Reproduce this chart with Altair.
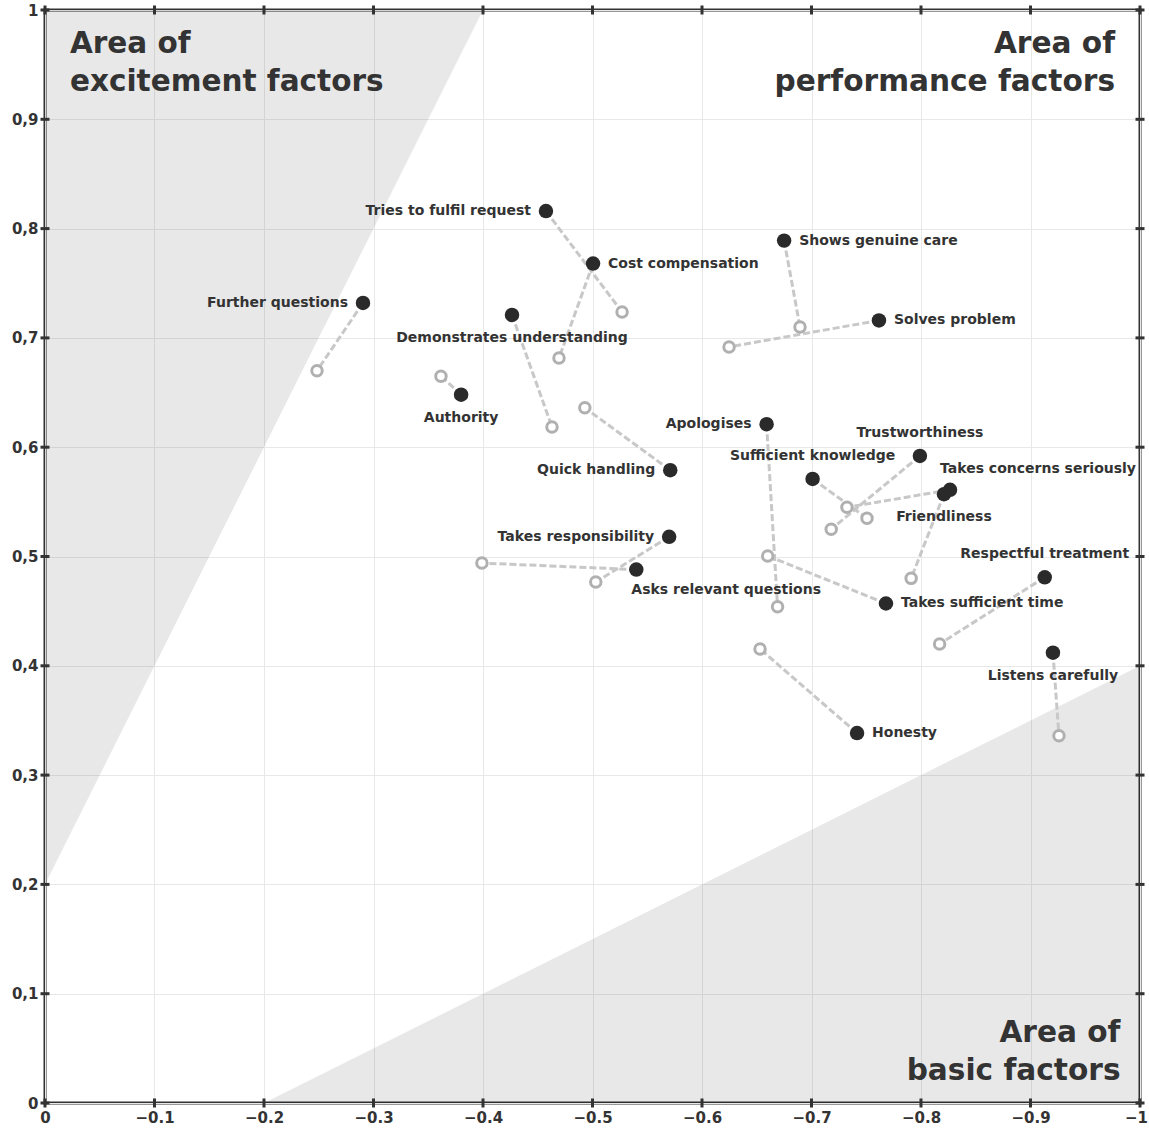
import altair as alt
import pandas as pd

factors = [
    "Tries to fulfil request", "Cost compensation", "Shows genuine care", "Solves problem",
    "Further questions", "Demonstrates understanding", "Authority", "Apologises",
    "Quick handling", "Sufficient knowledge", "Trustworthiness", "Takes concerns seriously",
    "Friendliness", "Takes responsibility", "Asks relevant questions", "Takes sufficient time",
    "Respectful treatment", "Listens carefully", "Honesty",
]
x_filled = [-0.4575, -0.5005, -0.675, -0.7616, -0.2904, -0.4265, -0.380, -0.659,
            -0.571, -0.701, -0.799, -0.8265, -0.821, -0.570, -0.540, -0.768,
            -0.913, -0.9205, -0.7416]
y_filled = [0.816, 0.768, 0.789, 0.716, 0.732, 0.721, 0.648, 0.621,
            0.579, 0.571, 0.592, 0.561, 0.557, 0.518, 0.488, 0.457,
            0.481, 0.412, 0.3385]
x_open = [-0.527, -0.4694, -0.6895, -0.6247, -0.2484, -0.463, -0.3616, -0.669,
          -0.493, -0.7507, -0.718, -0.7324, -0.791, -0.503, -0.399, -0.660,
          -0.817, -0.926, -0.653]
y_open = [0.7237, 0.6816, 0.710, 0.6917, 0.670, 0.6185, 0.665, 0.454,
          0.636, 0.535, 0.525, 0.545, 0.480, 0.4767, 0.494, 0.5005,
          0.420, 0.336, 0.4154]

labels_right = ["Cost compensation", "Shows genuine care", "Solves problem", "Takes sufficient time", "Honesty"]
labels_left = ["Tries to fulfil request", "Further questions", "Apologises", "Quick handling", "Takes responsibility"]
labels_above = ["Sufficient knowledge", "Trustworthiness", "Respectful treatment"]
labels_below = ["Demonstrates understanding", "Authority", "Friendliness", "Listens carefully"]
labels_above_right = ["Takes concerns seriously"]
labels_below_right = ["Asks relevant questions"]

x_ticks = [0, -0.1, -0.2, -0.3, -0.4, -0.5, -0.6, -0.7, -0.8, -0.9, -1.0]
y_ticks = [0, 0.1, 0.2, 0.3, 0.4, 0.5, 0.6, 0.7, 0.8, 0.9, 1.0]

excite_x = [0.0, -0.4]
excite_lo = [0.2, 1.0]
excite_hi = [1.0, 1.0]
basic_x = [-0.2, -1.0]
basic_lo = [0.0, 0.0]
basic_hi = [0.0, 0.4]

title_left = ["Area of\nexcitement factors"]
title_left_x = [-0.0228]
title_left_y = [0.9607]
title_right = ["Area of\nperformance factors", "Area of\nbasic factors"]
title_right_x = [-0.9772, -0.9822]
title_right_y = [0.9607, 0.0558]

TXT = "#333333"
FONT = "DejaVu Sans"

xs = alt.Scale(domain=[-1, 0], reverse=True, nice=False, zero=False)
ys = alt.Scale(domain=[0, 1], nice=False, zero=False)

df = pd.DataFrame({"factor": factors, "x": x_filled, "y": y_filled,
                   "x2": x_open, "y2": y_open})

ex_df = pd.DataFrame({"x": excite_x, "lo": excite_lo, "hi": excite_hi})
ba_df = pd.DataFrame({"x": basic_x, "lo": basic_lo, "hi": basic_hi})

X = lambda f="x": alt.X(f"{f}:Q", scale=xs, title=None,
                        axis=alt.Axis(values=x_ticks, labelExpr="format(datum.value, '~g')",
                                      grid=True, labelPadding=7,
                                      labelOffset={"condition": {"test": "datum.value == -1", "value": -4},
                                                   "value": 0}))
Y = lambda f="y": alt.Y(f"{f}:Q", scale=ys, title=None,
                        axis=alt.Axis(values=y_ticks,
                                      labelExpr="replace(format(datum.value, '~g'), '.', ',')",
                                      grid=True, labelPadding=7))

shade_ex = alt.Chart(ex_df).mark_area(color="#000000", opacity=0.09).encode(
    x=X(), y=Y("lo"), y2="hi:Q")
shade_ba = alt.Chart(ba_df).mark_area(color="#000000", opacity=0.09).encode(
    x=X(), y=Y("lo"), y2="hi:Q")

links = alt.Chart(df).mark_rule(color="#c8c8c8", strokeWidth=3, strokeDash=[7, 3]).encode(
    x=X(), y=Y(), x2="x2:Q", y2="y2:Q")

open_pts = alt.Chart(df).mark_point(shape="circle", filled=False, size=110, strokeWidth=3,
                                    color="#b0b0b0", fill="#ffffff", fillOpacity=1, opacity=1).encode(
    x=X("x2"), y=Y("y2"))

filled_pts = alt.Chart(df).mark_point(shape="circle", filled=True, size=210,
                                      color="#2a2a2a", opacity=1).encode(
    x=X(), y=Y())


def lab(names, **kw):
    sub = df[df["factor"].isin(names)]
    return alt.Chart(sub).mark_text(font=FONT, fontWeight="bold", fontSize=14, color=TXT, **kw).encode(
        x=X(), y=Y(), text="factor:N")


lab_layers = [
    lab(labels_right, align="left", baseline="middle", dx=15),
    lab(labels_left, align="right", baseline="middle", dx=-15),
    lab(labels_above, align="center", baseline="middle", dy=-23),
    lab(labels_below, align="center", baseline="middle", dy=23),
    lab(labels_above_right, align="left", baseline="middle", dx=-10, dy=-21),
    lab(labels_below_right, align="left", baseline="middle", dx=-5, dy=20),
]

tl_df = pd.DataFrame({"t": title_left, "x": title_left_x, "y": title_left_y})
tr_df = pd.DataFrame({"t": title_right, "x": title_right_x, "y": title_right_y})
title_l = alt.Chart(tl_df).mark_text(font=FONT, fontWeight="bold", fontSize=29.5, color=TXT,
                                      align="left", baseline="alphabetic", lineBreak="\n",
                                      lineHeight=38).encode(x=X(), y=Y(), text="t:N")
title_r = alt.Chart(tr_df).mark_text(font=FONT, fontWeight="bold", fontSize=29.6, color=TXT,
                                      align="right", baseline="alphabetic", lineBreak="\n",
                                      lineHeight=38).encode(x=X(), y=Y(), text="t:N")

tb = pd.DataFrame({"x": x_ticks, "y": [0.0] * len(x_ticks)})
tt = pd.DataFrame({"x": x_ticks, "y": [1.0] * len(x_ticks)})
tlft = pd.DataFrame({"x": [0.0] * len(y_ticks), "y": y_ticks})
trgt = pd.DataFrame({"x": [-1.0] * len(y_ticks), "y": y_ticks})
tick_v = dict(orient="vertical", size=9, thickness=3, color="#333333", opacity=1)
tick_h = dict(orient="horizontal", size=9, thickness=3, color="#333333", opacity=1)
ticks = [
    alt.Chart(tb).mark_tick(**tick_v).encode(x=X(), y=Y()),
    alt.Chart(tt).mark_tick(**tick_v).encode(x=X(), y=Y()),
    alt.Chart(tlft).mark_tick(**tick_h).encode(x=X(), y=Y()),
    alt.Chart(trgt).mark_tick(**tick_h).encode(x=X(), y=Y()),
]

chart = alt.layer(
    shade_ex, shade_ba, links, open_pts, filled_pts, *lab_layers, title_l, title_r, *ticks
).properties(
    width=1095, height=1093,
    autosize=alt.AutoSizeParams(type="none"),
    padding={"left": 45, "top": 10, "right": 9, "bottom": 28},
    background="#ffffff",
).configure_view(
    stroke="#333333", strokeWidth=3
).configure_axis(
    domain=False, ticks=False, gridColor="#e8e8e8", gridWidth=1,
    labelFont=FONT, labelFontWeight="bold", labelFontSize=15, labelColor=TXT,
    labelFlush=False, labelOverlap=False,
)

chart.save("out.html", embed_options={"renderer": "svg", "actions": False})
